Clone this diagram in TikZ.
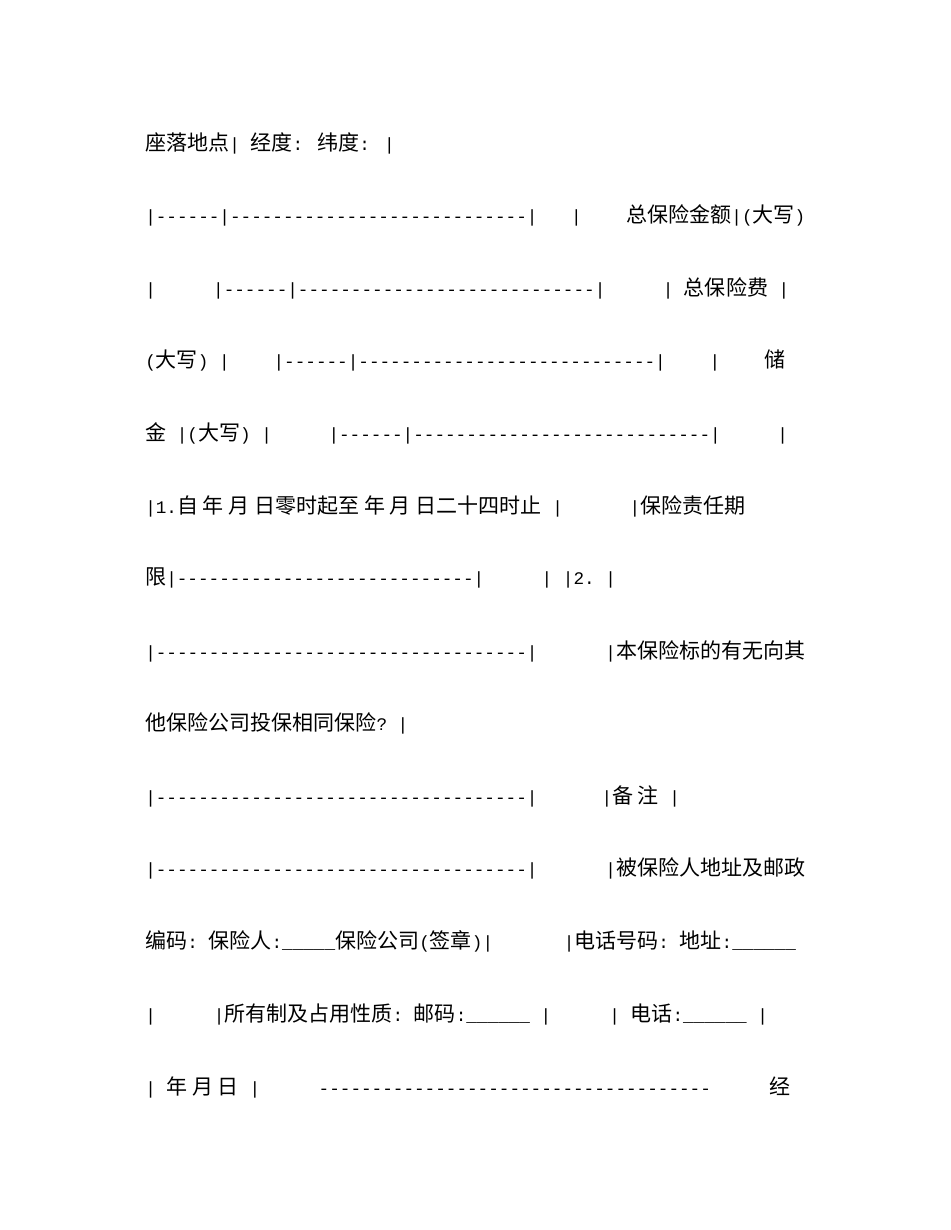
\documentclass[tikz,border=0pt]{standalone}
\usepackage{fontspec}
\setmainfont[Ligatures=TeXOff]{Liberation Mono}
\newfontfamily\cjk[Scale=1.19]{Noto Sans CJK SC}
\newcommand\C[1]{{\cjk #1}}
\tikzset{ln/.style={anchor=west,inner sep=0pt,font=\fontsize{13.25}{16}\selectfont}}
\begin{document}
\begin{tikzpicture}[x=0.75pt,y=-0.75pt]
\useasboundingbox (0,0) rectangle (950,1230);
\node[ln] (l1) at (145,143) {\C{座落地点}|\ \C{经度}: \C{纬度}: |};
\node[ln] (l2) at (145,215) {\makebox[495pt][s]{|------|----------------------------|\hfill|\hfill\ \C{总保险金额}|(\C{大写})}};
\node[ln] (l3) at (145,288) {\makebox[483pt][s]{|\hfill|------|----------------------------|\hfill|\ \C{总保险费}\ |}};
\node[ln] (l4) at (145,360) {\makebox[480pt][s]{(\C{大写})\ |\hfill|------|----------------------------|\hfill|\hfill\C{储}}};
\node[ln] (l5) at (145,433) {\makebox[482pt][s]{\C{金}\ |(\C{大写})\ |\hfill|------|----------------------------|\hfill|}};
\node[ln] (l6) at (145,506) {\makebox[450pt][s]{|1.\C{自 年 月 日零时起至 年 月 日二十四时止}\ |\hfill|\C{保险责任期}}};
\node[ln] (l7) at (145,578) {\makebox[353pt][s]{\C{限}|----------------------------|\hfill|\ |2.\ |}};
\node[ln] (l8) at (145,651) {\makebox[495pt][s]{|-----------------------------------|\hfill|\C{本保险标的有无向其}}};
\node[ln] (l9) at (145,723) {\C{他保险公司投保相同保险}?\ |};
\node[ln] (l10) at (145,796) {|-----------------------------------|\hspace{48pt}|\C{备 注}\ |};
\node[ln] (l11) at (145,868) {\makebox[495pt][s]{|-----------------------------------|\hfill|\C{被保险人地址及邮政}}};
\node[ln] (l12) at (145,941) {\makebox[488pt][s]{\C{编码}:\ \C{保险人}:\_\_\_\_\_\C{保险公司}(\C{签章})|\hfill|\C{电话号码}:\ \C{地址}:\_\_\_\_\_\_}};
\node[ln] (l13) at (145,1014) {\makebox[467pt][s]{|\hfill|\C{所有制及占用性质}:\ \C{邮码}:\_\_\_\_\_\_\ |\hfill|\ \C{电话}:\_\_\_\_\_\_\ |}};
\node[ln] (l14) at (145,1087) {\makebox[484pt][s]{|\ \C{年 月 日}\ |\hfill-------------------------------------\hfill\C{经}}};
\end{tikzpicture}
\end{document}
